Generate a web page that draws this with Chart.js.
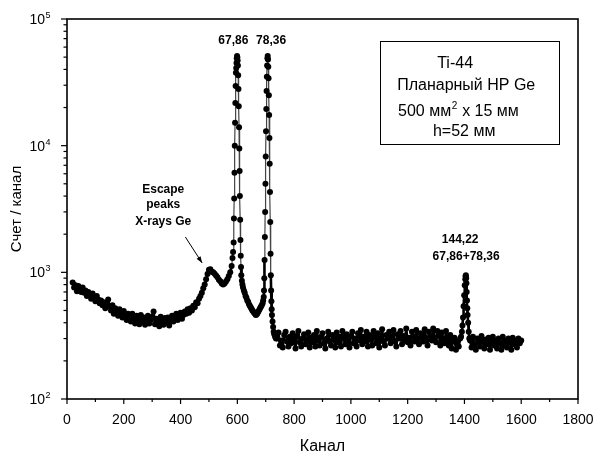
<!DOCTYPE html>
<html>
<head>
<meta charset="utf-8">
<script src="https://cdn.jsdelivr.net/npm/chart.js@4.4.1/dist/chart.umd.min.js"></script>
<style>
  body { margin: 0; background: #fff; }
  canvas { display: block; }
</style>
</head>
<body>
<canvas id="spectrum" width="596" height="455"></canvas>
<script>
// channel numbers and counts
const channels = [
  20, 25, 30, 35, 40, 45, 50, 55, 60, 65, 70, 75, 80, 85, 90, 95, 100, 105, 110, 115,
  120, 125, 130, 135, 140, 145, 150, 155, 160, 165, 170, 175, 180, 185, 190, 195, 200, 205, 210, 215,
  220, 225, 230, 235, 240, 245, 250, 255, 260, 265, 270, 275, 280, 285, 290, 295, 300, 305, 310, 315,
  320, 325, 330, 335, 340, 345, 350, 355, 360, 365, 370, 375, 380, 385, 390, 395, 400, 405, 410, 415,
  420, 425, 430, 435, 440, 445, 450, 455, 460, 465, 470, 475, 480, 485, 490, 495, 500, 505, 510, 515,
  520, 525, 530, 535, 540, 545, 550, 555, 560, 565, 570, 575, 580, 583, 585,
  587, 588, 589, 590, 591, 592, 593, 594, 595, 596, 597, 598, 599, 600, 601, 602, 603, 604, 605, 606,
  607, 608, 609, 610, 611, 612, 613, 614, 616, 618,
  620, 623, 626, 629, 632, 635, 638, 641, 644, 647, 650, 653, 656, 659, 662, 665, 668, 671, 674, 677,
  680, 683, 686, 689, 691,
  693, 694, 695, 696, 697, 698, 699, 700, 701, 702, 703, 704, 705, 706, 707, 708, 709, 710, 711, 712,
  713, 714, 715, 716, 717, 718, 719, 720, 721, 722, 724, 726, 728, 730, 733, 736,
  740, 745, 750, 755, 760, 765, 770, 775, 780, 785, 790, 795, 800, 805, 810, 815, 820, 825, 830, 835,
  840, 845, 850, 855, 860, 865, 870, 875, 880, 885, 890, 895, 900, 905, 910, 915, 920, 925, 930, 935,
  940, 945, 950, 955, 960, 965, 970, 975, 980, 985, 990, 995, 1000, 1005, 1010, 1015, 1020, 1025, 1030, 1035,
  1040, 1045, 1050, 1055, 1060, 1065, 1070, 1075, 1080, 1085, 1090, 1095, 1100, 1105, 1110, 1115, 1120, 1125, 1130, 1135,
  1140, 1145, 1150, 1155, 1160, 1165, 1170, 1175, 1180, 1185, 1190, 1195, 1200, 1205, 1210, 1215, 1220, 1225, 1230, 1235,
  1240, 1245, 1250, 1255, 1260, 1265, 1270, 1275, 1280, 1285, 1290, 1295, 1300, 1305, 1310, 1315, 1320, 1325, 1330, 1335,
  1340, 1345, 1350, 1355, 1360, 1365, 1370, 1375, 1380, 1385,
  1388, 1391, 1393, 1395, 1397, 1399, 1401, 1403, 1404, 1405, 1406, 1407, 1408, 1409, 1410, 1411, 1413, 1415, 1417,
  1420, 1425, 1430, 1435, 1440, 1445, 1450, 1455, 1460, 1465, 1470, 1475, 1480, 1485, 1490, 1495, 1500, 1505, 1510, 1515,
  1520, 1525, 1530, 1535, 1540, 1545, 1550, 1555, 1560, 1565, 1570, 1575, 1580, 1585, 1590, 1595, 1600
];
const counts = [
  830, 760, 790, 710, 780, 740, 700, 760, 690, 720, 650, 700, 660, 620, 680, 640, 590, 650, 610, 570,
  600, 550, 580, 520, 560, 610, 540, 500, 550, 470, 520, 490, 455, 510, 470, 440, 495, 460, 420, 470,
  440, 410, 470, 430, 395, 455, 420, 390, 460, 410, 440, 385, 425, 455, 395, 420, 445, 490, 390, 430,
  405, 375, 445, 410, 385, 435, 400, 440, 380, 420, 455, 410, 440, 470, 420, 445, 480, 430, 460, 490,
  470, 510, 480, 520, 500, 545, 530, 580, 570, 620, 650, 690, 750, 800, 880, 970, 1050, 1060, 1010, 1000,
  975, 945, 915, 875, 850, 815, 800, 815, 845, 880, 935, 1000, 1120, 1300, 1450,
  1720, 2660, 3820, 6100, 10000, 15200, 21700, 29600, 37600, 41000, 45000, 49000, 51000, 50000, 47000, 43000, 36000, 28000, 20500, 14000,
  9500, 6300, 4000, 2600, 1800, 1350, 1100, 950, 860, 800,
  760, 720, 690, 650, 630, 600, 585, 560, 545, 530, 515, 500, 490, 480, 470, 460, 465, 475, 490, 505,
  520, 535, 550, 570, 600,
  640, 720, 900, 1250, 1900, 3000, 5000, 8200, 13000, 19500, 27000, 35000, 43000, 49000, 51000, 48000, 42000, 34000, 25000, 17500,
  11500, 7200, 4300, 2500, 1400, 950, 720, 590, 510, 460, 410, 370, 340, 325, 310, 300,
  300, 335, 265, 290, 255, 320, 340, 285, 260, 310, 275, 330, 295, 250, 315, 345, 280, 260, 300, 325,
  270, 295, 335, 255, 305, 280, 320, 260, 345, 290, 265, 310, 330, 275, 250, 300, 340, 285, 265, 320,
  295, 255, 335, 280, 310, 260, 345, 300, 270, 325, 290, 255, 315, 340, 275, 300, 260, 330, 290, 350,
  270, 310, 285, 340, 260, 320, 295, 265, 345, 305, 275, 330, 255, 300, 355, 285, 265, 320, 300, 340,
  275, 310, 350, 285, 260, 325, 300, 345, 270, 315, 290, 360, 280, 305, 265, 340, 310, 285, 350, 300,
  270, 330, 310, 285, 355, 300, 265, 340, 315, 290, 360, 305, 280, 345, 320, 265, 335, 300, 275, 345,
  300, 265, 320, 250, 290, 305, 245, 285, 260, 300,
  310, 340, 380, 440, 540, 660, 790, 880, 930, 950, 900, 820, 700, 600, 520, 460, 400, 340, 300,
  290, 255, 310, 270, 245, 300, 280, 260, 315, 285, 250, 295, 270, 305, 245, 285, 310, 265, 290, 250,
  300, 275, 245, 310, 265, 290, 255, 300, 280, 245, 305, 270, 290, 255, 300, 275, 290
];

const xTitle = 'Канал';
const yTitle = 'Счет / канал';
const infoLines = ['Ti-44', 'Планарный HP Ge', '500 мм² x 15 мм', 'h=52 мм'];
const peakLabels = ['67,86', '78,36'];
const escapeLabels = ['Escape', 'peaks', 'X-rays Ge'];
const sumLabels = ['144,22', '67,86+78,36'];

const FONT = '"Liberation Sans", Arial, sans-serif';

const points = channels.map((c, i) => ({ x: c, y: counts[i] }));

// the continuum is so dense in the original that it prints as a solid band
const inBand = s => s.p0.parsed.y < 1300 && s.p1.parsed.y < 1300;

// frame, ticks, tick labels, titles and notes
const decorations = {
  id: 'decorations',
  afterDraw(chart) {
    const ctx = chart.ctx;
    const a = chart.chartArea;
    const xs = chart.scales.x;
    const ys = chart.scales.y;
    ctx.save();
    ctx.strokeStyle = '#000';
    ctx.fillStyle = '#000';

    ctx.lineWidth = 1.6;
    ctx.strokeRect(a.left, a.top, a.right - a.left, a.bottom - a.top);

    // x ticks
    ctx.lineWidth = 1.2;
    ctx.font = '14px ' + FONT;
    ctx.textAlign = 'center';
    ctx.textBaseline = 'alphabetic';
    for (let v = 0; v <= 1800; v += 100) {
      const px = xs.getPixelForValue(v);
      const major = v % 200 === 0;
      ctx.beginPath();
      ctx.moveTo(px, a.bottom);
      ctx.lineTo(px, a.bottom + (major ? 5 : 3));
      ctx.stroke();
      if (major) ctx.fillText(String(v), px, a.bottom + 25);
    }

    // y ticks
    for (let e = 2; e <= 5; e++) {
      for (let k = 1; k <= 9; k++) {
        const val = k * Math.pow(10, e);
        if (val > 100000) break;
        const py = ys.getPixelForValue(val);
        ctx.beginPath();
        ctx.moveTo(a.left, py);
        ctx.lineTo(a.left - (k === 1 ? 6 : 3.5), py);
        ctx.stroke();
      }
      const py = ys.getPixelForValue(Math.pow(10, e));
      ctx.font = '14px ' + FONT;
      ctx.textAlign = 'right';
      ctx.textBaseline = 'middle';
      ctx.fillText('10', 45, py + 1);
      ctx.font = '9px ' + FONT;
      ctx.textAlign = 'left';
      ctx.textBaseline = 'alphabetic';
      ctx.fillText(String(e), 45.5, py - 1);
    }

    // axis titles
    ctx.font = '16px ' + FONT;
    ctx.textAlign = 'center';
    ctx.textBaseline = 'alphabetic';
    ctx.fillText(xTitle, (a.left + a.right) / 2, 451);
    ctx.save();
    ctx.translate(21, (a.top + a.bottom) / 2);
    ctx.rotate(-Math.PI / 2);
    ctx.font = '15px ' + FONT;
    ctx.fillText(yTitle, 0, 0);
    ctx.restore();

    // info box
    const bx0 = xs.getPixelForValue(1103), bx1 = xs.getPixelForValue(1733);
    const by0 = ys.getPixelForValue(67000), by1 = ys.getPixelForValue(10300);
    ctx.lineWidth = 1;
    ctx.strokeRect(Math.round(bx0) + 0.5, Math.round(by0) + 0.5, Math.round(bx1 - bx0), Math.round(by1 - by0));
    ctx.font = '16px ' + FONT;
    ctx.textAlign = 'left';
    const infoPos = [[1304, 41000], [1163, 27500], [1166, 17100], [1289, 11900]];
    infoLines.forEach((t, i) => {
      const x = xs.getPixelForValue(infoPos[i][0]);
      const y = ys.getPixelForValue(infoPos[i][1]);
      if (t.includes('²')) {
        const parts = t.split('²');
        ctx.font = '16px ' + FONT;
        ctx.fillText(parts[0], x, y);
        const w = ctx.measureText(parts[0]).width;
        ctx.font = '10px ' + FONT;
        ctx.fillText('2', x + w + 0.5, y - 7);
        const w2 = ctx.measureText('2').width;
        ctx.font = '16px ' + FONT;
        ctx.fillText(parts[1], x + w + w2 + 1, y);
      } else {
        ctx.fillText(t, x, y);
      }
    });

    // peak notes
    ctx.font = 'bold 12px ' + FONT;
    ctx.textAlign = 'center';
    const note = (t, cx, cy) => ctx.fillText(t, xs.getPixelForValue(cx), ys.getPixelForValue(cy));
    note(peakLabels[0], 586, 63500);
    note(peakLabels[1], 719, 63500);
    note(escapeLabels[0], 339, 4230);
    note(escapeLabels[1], 339, 3200);
    note(escapeLabels[2], 339, 2370);
    note(sumLabels[0], 1385, 1700);
    note(sumLabels[1], 1406, 1250);

    // arrow to escape peak
    const ax0 = xs.getPixelForValue(417), ay0 = ys.getPixelForValue(1900);
    const ax1 = xs.getPixelForValue(476), ay1 = ys.getPixelForValue(1185);
    const ang = Math.atan2(ay1 - ay0, ax1 - ax0);
    ctx.lineWidth = 1;
    ctx.beginPath();
    ctx.moveTo(ax0, ay0);
    ctx.lineTo(ax1, ay1);
    ctx.stroke();
    ctx.beginPath();
    ctx.moveTo(ax1, ay1);
    ctx.lineTo(ax1 - 7 * Math.cos(ang - 0.35), ay1 - 7 * Math.sin(ang - 0.35));
    ctx.lineTo(ax1 - 7 * Math.cos(ang + 0.35), ay1 - 7 * Math.sin(ang + 0.35));
    ctx.closePath();
    ctx.fill();

    ctx.restore();
  }
};

new Chart(document.getElementById('spectrum'), {
  type: 'scatter',
  data: {
    datasets: [{
      data: points,
      showLine: true,
      borderColor: '#444',
      borderWidth: 1.2,
      borderJoinStyle: 'round',
      borderCapStyle: 'round',
      segment: {
        borderColor: s => inBand(s) ? '#000' : '#444',
        borderWidth: s => inBand(s) ? 2.6 : 1.2
      },
      pointRadius: 3,
      pointBackgroundColor: '#000',
      pointBorderWidth: 0
    }]
  },
  options: {
    responsive: false,
    animation: false,
    layout: { padding: { top: 19, right: 18, left: 0, bottom: 0 } },
    plugins: { legend: { display: false }, tooltip: { enabled: false } },
    scales: {
      x: {
        type: 'linear', min: 0, max: 1800,
        grid: { display: false }, border: { display: false }, ticks: { display: false },
        afterFit(s) { s.height = 56; }
      },
      y: {
        type: 'logarithmic', min: 100, max: 100000,
        grid: { display: false }, border: { display: false }, ticks: { display: false },
        afterFit(s) { s.width = 67; }
      }
    }
  },
  plugins: [decorations]
});
</script>
</body>
</html>
